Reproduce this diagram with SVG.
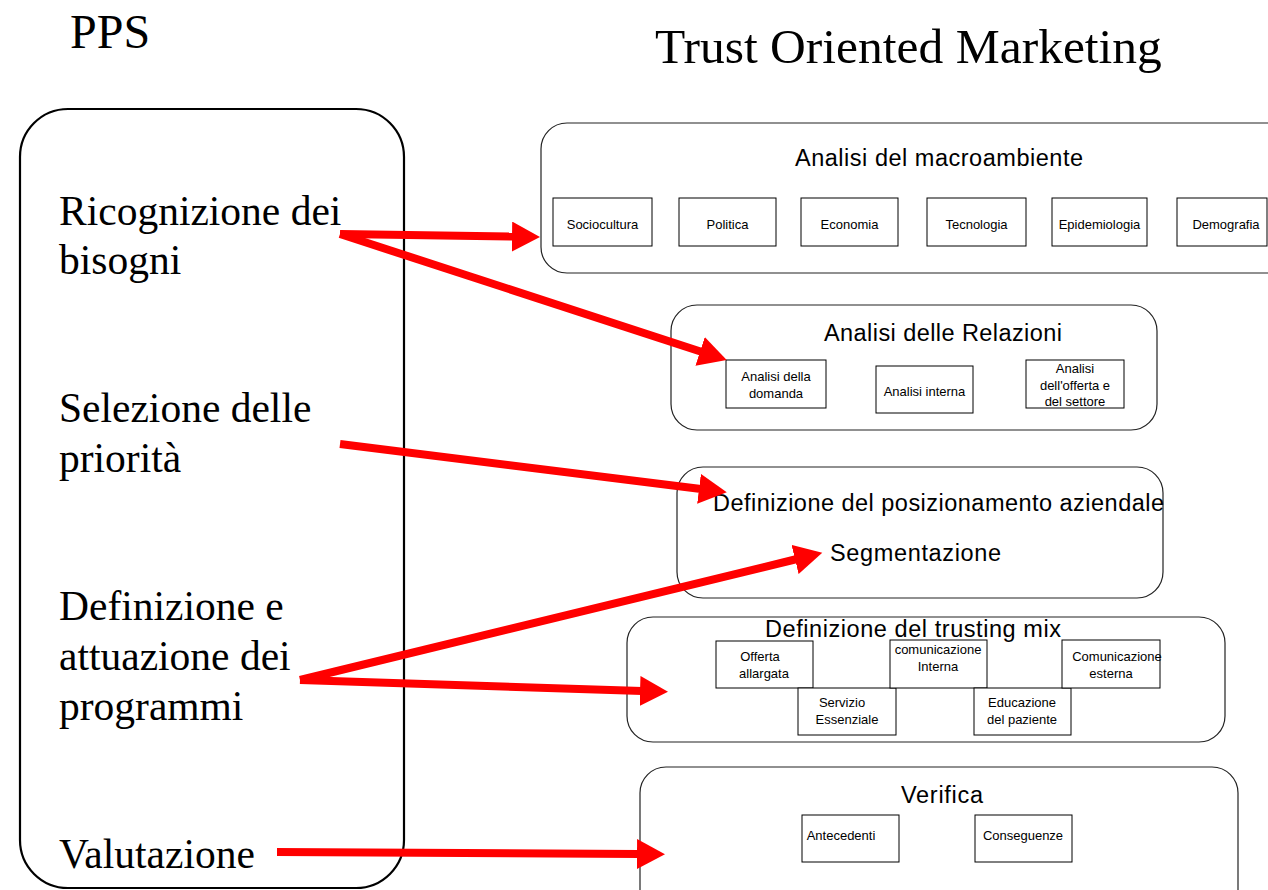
<svg xmlns="http://www.w3.org/2000/svg" width="1268" height="890" viewBox="0 0 1268 890">
<defs>
<style>
.serif{font-family:"Liberation Serif","Times New Roman",serif;fill:#000}
.sans{font-family:"Liberation Sans",Arial,sans-serif;fill:#000}
.title{font-size:23.5px}
.small{font-size:13px;text-anchor:middle}
.big{font-size:41.5px}
.panel{fill:#fff;stroke:#222;stroke-width:1.2}
.sub{fill:#fff;stroke:#000;stroke-width:1}
.conn{stroke:#ff0000;stroke-width:8;fill:none}
</style>
<marker id="ah" markerUnits="userSpaceOnUse" markerWidth="30" markerHeight="30" refX="2" refY="15" orient="auto">
<path d="M0,0 L28,15 L0,30 z" fill="#ff0000"/>
</marker>
</defs>
<rect width="1268" height="890" fill="#fff"/>
<text class="serif" x="70" y="48" font-size="48">PPS</text>
<text class="serif" x="655" y="63" font-size="49.5">Trust Oriented Marketing</text>

<g id="pps">
<rect x="20" y="109" width="384" height="779" rx="48" ry="48" fill="#fff" stroke="#000" stroke-width="2.2"/>
<text class="serif big" x="59" y="225">Ricognizione dei</text>
<text class="serif big" x="59" y="274">bisogni</text>
<text class="serif big" x="59" y="422">Selezione delle</text>
<text class="serif big" x="59" y="472">priorità</text>
<text class="serif big" x="59" y="620">Definizione e</text>
<text class="serif big" x="59" y="670">attuazione dei</text>
<text class="serif big" x="59" y="720">programmi</text>
<text class="serif big" x="59" y="868">Valutazione</text>
</g>

<g id="macroambiente">
<rect class="panel" x="541" y="123" width="760" height="150" rx="26"/>
<text class="sans title" x="795" y="166" textLength="288" lengthAdjust="spacing">Analisi del macroambiente</text>
<rect class="sub" x="553" y="198" width="99" height="48"/>
<text class="sans small" x="602.5" y="229">Sociocultura</text>
<rect class="sub" x="679" y="198" width="97" height="48"/>
<text class="sans small" x="727.5" y="229">Politica</text>
<rect class="sub" x="801" y="198" width="97" height="48"/>
<text class="sans small" x="849.5" y="229">Economia</text>
<rect class="sub" x="927" y="198" width="99" height="48"/>
<text class="sans small" x="976.5" y="229">Tecnologia</text>
<rect class="sub" x="1052" y="198" width="95" height="48"/>
<text class="sans small" x="1099.5" y="229">Epidemiologia</text>
<rect class="sub" x="1177" y="198" width="90" height="48"/>
<text class="sans small" x="1226" y="229">Demografia</text>
</g>

<g id="relazioni">
<rect class="panel" x="671" y="305" width="486" height="125" rx="26"/>
<text class="sans title" x="824" y="341" textLength="238" lengthAdjust="spacing">Analisi delle Relazioni</text>
<rect class="sub" x="726" y="360" width="100" height="48"/>
<text class="sans small" x="776" y="381">Analisi della</text>
<text class="sans small" x="776" y="398">domanda</text>
<rect class="sub" x="876" y="366" width="97" height="47"/>
<text class="sans small" x="924.5" y="396">Analisi interna</text>
<rect class="sub" x="1026" y="360" width="98" height="48"/>
<text class="sans small" x="1075" y="373">Analisi</text>
<text class="sans small" x="1075" y="390">dell'offerta e</text>
<text class="sans small" x="1075" y="406">del settore</text>
</g>

<g id="posizionamento">
<rect class="panel" x="677" y="467" width="486" height="131" rx="26"/>
<text class="sans title" x="713" y="511" textLength="451" lengthAdjust="spacing">Definizione del posizionamento aziendale</text>
<text class="sans title" x="830" y="561" textLength="171" lengthAdjust="spacing">Segmentazione</text>
</g>

<g id="trustingmix">
<rect class="panel" x="627" y="617" width="598" height="125" rx="26"/>
<text class="sans title" x="765" y="637" textLength="296" lengthAdjust="spacing">Definizione del trusting mix</text>
<rect class="sub" x="716" y="641" width="97" height="47"/>
<text class="sans small" x="760" y="661">Offerta</text>
<text class="sans small" x="764" y="678">allargata</text>
<rect class="sub" x="798" y="688" width="98" height="47"/>
<text class="sans small" x="842" y="707">Servizio</text>
<text class="sans small" x="847" y="724">Essenziale</text>
<rect class="sub" x="890" y="640" width="97" height="48"/>
<text class="sans small" x="938" y="654">comunicazione</text>
<text class="sans small" x="938" y="671">Interna</text>
<rect class="sub" x="974" y="688" width="97" height="47"/>
<text class="sans small" x="1022" y="707">Educazione</text>
<text class="sans small" x="1022" y="724">del paziente</text>
<rect class="sub" x="1062" y="640" width="98" height="48"/>
<text class="sans small" x="1117" y="661">Comunicazione</text>
<text class="sans small" x="1111" y="678">esterna</text>
</g>

<g id="verifica">
<rect class="panel" x="640" y="767" width="598" height="150" rx="26"/>
<text class="sans title" x="901" y="803" textLength="82" lengthAdjust="spacing">Verifica</text>
<rect class="sub" x="802" y="815" width="97" height="47"/>
<text class="sans small" x="841" y="840">Antecedenti</text>
<rect class="sub" x="975" y="815" width="97" height="47"/>
<text class="sans small" x="1023" y="840">Conseguenze</text>
</g>

<g id="connectors">
<line class="conn" x1="340" y1="234" x2="514" y2="236.6" marker-end="url(#ah)"/>
<line class="conn" x1="340" y1="234" x2="702" y2="352" marker-end="url(#ah)"/>
<line class="conn" x1="340" y1="444" x2="701" y2="489" marker-end="url(#ah)"/>
<line class="conn" x1="300" y1="680" x2="797" y2="559" marker-end="url(#ah)"/>
<line class="conn" x1="300" y1="680" x2="642" y2="691" marker-end="url(#ah)"/>
<line class="conn" x1="277" y1="852" x2="639" y2="854" marker-end="url(#ah)"/>
</g>
</svg>
